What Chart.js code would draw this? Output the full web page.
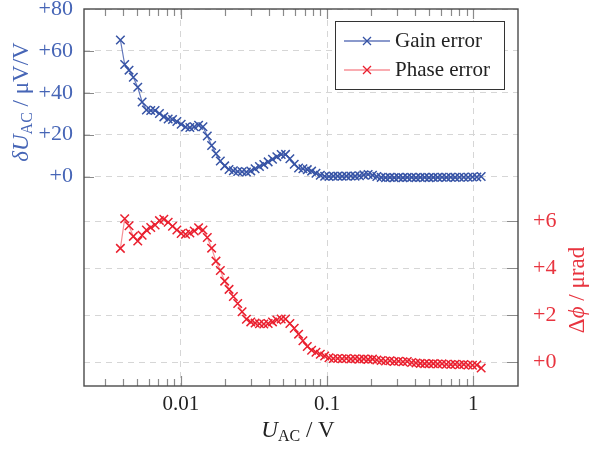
<!DOCTYPE html>
<html>
<head>
<meta charset="utf-8">
<script src="https://cdn.jsdelivr.net/npm/chart.js@4.4.1/dist/chart.umd.min.js"></script>
<style>
  html, body { margin: 0; padding: 0; background: #fff; }
</style>
</head>
<body>
<canvas id="chart" width="590" height="455"></canvas>
<script>
// measured AC voltage (V)
var voltages = [
  0.00385, 0.00412, 0.00441, 0.00472, 0.00506, 0.00542, 0.00580, 0.00621, 0.00665, 0.00712,
  0.00763, 0.00817, 0.00875, 0.00937, 0.01003, 0.01074, 0.01150, 0.01232, 0.01319, 0.01413,
  0.01513, 0.01620, 0.01735, 0.01858, 0.01990, 0.02131, 0.02282, 0.02443, 0.02617, 0.02802,
  0.03001, 0.03213, 0.03441, 0.03685, 0.03946, 0.04226, 0.04525, 0.04846, 0.05190, 0.05557,
  0.05951, 0.06373, 0.06825, 0.07309, 0.07827, 0.08381, 0.08975, 0.09611, 0.1029, 0.1102,
  0.1180, 0.1264, 0.1354, 0.1450, 0.1552, 0.1662, 0.1780, 0.1906, 0.2041, 0.2186,
  0.2341, 0.2507, 0.2685, 0.2875, 0.3079, 0.3297, 0.3531, 0.3781, 0.4049, 0.4336,
  0.4643, 0.4972, 0.5324, 0.5702, 0.6106, 0.6539, 0.7002, 0.7498, 0.8030, 0.8599,
  0.9209, 0.9861, 1.056, 1.131
];
// gain error (uV/V)
var gainError = [
  65.2, 53.5, 50.8, 47.4, 42.6, 35.6, 31.8, 31.5, 31.5, 30.1,
  28.5, 27.5, 27.2, 26.3, 25.0, 23.7, 23.4, 23.8, 24.5, 23.8,
  19.4, 14.8, 10.9, 7.4, 5.1, 3.4, 2.8, 2.4, 2.3, 2.2,
  2.7, 3.7, 4.8, 5.8, 7.0, 8.3, 9.5, 10.5, 10.6, 8.5,
  5.9, 4.1, 3.7, 3.3, 2.6, 1.6, 0.6, 0.1, 0.0, 0.2,
  0.2, 0.1, 0.2, 0.3, 0.2, 0.4, 0.8, 1.0, 0.6, 0.0,
  -0.4, -0.5, -0.4, -0.5, -0.4, -0.5, -0.4, -0.4, -0.5, -0.4,
  -0.4, -0.5, -0.4, -0.4, -0.3, -0.4, -0.3, -0.4, -0.3, -0.3,
  -0.3, -0.2, -0.2, 0.0
];
// phase error (urad)
var phaseError = [
  4.84, 6.1, 5.8, 5.35, 5.15, 5.4, 5.62, 5.73, 5.83, 6.02,
  6.08, 5.95, 5.78, 5.62, 5.47, 5.44, 5.49, 5.58, 5.72, 5.62,
  5.3, 4.85, 4.3, 3.9, 3.45, 3.1, 2.8, 2.5, 2.15, 1.83,
  1.72, 1.67, 1.64, 1.63, 1.65, 1.72, 1.8, 1.84, 1.84, 1.65,
  1.45, 1.2, 0.92, 0.68, 0.52, 0.43, 0.35, 0.27, 0.2, 0.17,
  0.17, 0.16, 0.17, 0.15, 0.16, 0.14, 0.15, 0.13, 0.14, 0.1,
  0.08, 0.06, 0.07, 0.04, 0.05, 0.03, 0.04, 0.0, -0.02, -0.04,
  -0.05, -0.06, -0.05, -0.07, -0.06, -0.08, -0.09, -0.08, -0.1, -0.09,
  -0.11, -0.12, -0.11, -0.24
];
var xTicks = [0.01, 0.1, 1];
var xMinorTicks = [0.003, 0.004, 0.005, 0.006, 0.007, 0.008, 0.009,
  0.02, 0.03, 0.04, 0.05, 0.06, 0.07, 0.08, 0.09,
  0.2, 0.3, 0.4, 0.5, 0.6, 0.7, 0.8, 0.9];
var gainTicks = [0, 20, 40, 60, 80];
var phaseTicks = [0, 2, 4, 6];

var BLUE = '#3653a5';
var BLUE_LINE = 'rgba(60,85,170,0.8)';
var BLUE_TEXT = '#4665b6';
var RED = '#ea1f2e';
var RED_LINE = 'rgba(240,70,80,0.6)';
var RED_TEXT = '#e8343f';
var SERIF = '"Liberation Serif", "DejaVu Serif", serif';

function toPoints(ys) {
  return voltages.map(function(v, i) { return { x: v, y: ys[i] }; });
}

// draw a run of text pieces (for sub-scripts), centred on cx,cy, rotated by angle
function drawRuns(ctx, runs, cx, cy, angle, color) {
  ctx.save();
  ctx.translate(cx, cy);
  ctx.rotate(angle);
  ctx.fillStyle = color;
  ctx.textBaseline = 'alphabetic';
  ctx.textAlign = 'left';
  var total = 0;
  runs.forEach(function(r) { ctx.font = r.f; r.w = ctx.measureText(r.t).width; total += r.w; });
  var x = -total / 2;
  runs.forEach(function(r) {
    ctx.font = r.f;
    ctx.fillText(r.t, x, 7 + (r.dy || 0));
    x += r.w;
  });
  ctx.restore();
}

var framePlugin = {
  id: 'frame',
  afterDraw: function(chart) {
    var ctx = chart.ctx;
    var a = chart.chartArea;
    var sx = chart.scales.x, sg = chart.scales.yG, sp = chart.scales.yP;
    ctx.save();
    // inner tick marks
    ctx.strokeStyle = '#8a8a8a';
    ctx.lineWidth = 1.2;
    ctx.beginPath();
    xMinorTicks.forEach(function(v) {
      var px = Math.round(sx.getPixelForValue(v)) + 0.5;
      ctx.moveTo(px, a.bottom); ctx.lineTo(px, a.bottom - 7);
      ctx.moveTo(px, a.top); ctx.lineTo(px, a.top + 7);
    });
    xTicks.forEach(function(v) {
      var px = Math.round(sx.getPixelForValue(v)) + 0.5;
      ctx.moveTo(px, a.bottom); ctx.lineTo(px, a.bottom - 10);
      ctx.moveTo(px, a.top); ctx.lineTo(px, a.top + 10);
    });
    gainTicks.slice(0, 4).forEach(function(v) {
      var py = Math.round(sg.getPixelForValue(v)) + 0.5;
      ctx.moveTo(a.left, py); ctx.lineTo(a.left + 10, py);
    });
    phaseTicks.forEach(function(v) {
      var py = Math.round(sp.getPixelForValue(v)) + 0.5;
      ctx.moveTo(a.right, py); ctx.lineTo(a.right - 11, py);
    });
    ctx.stroke();
    // frame
    ctx.strokeStyle = '#4a4a4a';
    ctx.lineWidth = 1.4;
    ctx.strokeRect(a.left, a.top, a.right - a.left, a.bottom - a.top);

    // legend
    var lx = 335, ly = 21, lw = 169, lh = 68;
    ctx.fillStyle = '#fff';
    ctx.fillRect(lx, ly, lw, lh);
    ctx.strokeStyle = '#333';
    ctx.lineWidth = 1;
    ctx.strokeRect(lx + 0.5, ly + 0.5, lw, lh);
    var entries = [
      { label: 'Gain error', line: BLUE_LINE, mark: BLUE, y: 41 },
      { label: 'Phase error', line: RED_LINE, mark: RED, y: 70 }
    ];
    entries.forEach(function(e) {
      ctx.strokeStyle = e.line;
      ctx.lineWidth = 1.3;
      ctx.beginPath();
      ctx.moveTo(344, e.y); ctx.lineTo(390, e.y);
      ctx.stroke();
      ctx.strokeStyle = e.mark;
      ctx.beginPath();
      ctx.moveTo(363, e.y - 4); ctx.lineTo(371, e.y + 4);
      ctx.moveTo(363, e.y + 4); ctx.lineTo(371, e.y - 4);
      ctx.stroke();
      ctx.fillStyle = '#222';
      ctx.font = '21px ' + SERIF;
      ctx.textBaseline = 'middle';
      ctx.textAlign = 'left';
      ctx.fillText(e.label, 395, e.y);
    });

    // axis titles
    var big = '23px ' + SERIF, bigIt = 'italic 23px ' + SERIF, sub = '16px ' + SERIF;
    drawRuns(ctx, [
      { t: 'δ', f: bigIt }, { t: 'U', f: bigIt }, { t: 'AC', f: sub, dy: 4 },
      { t: ' / μV/V', f: big }
    ], 21, 102, -Math.PI / 2, BLUE_TEXT);
    drawRuns(ctx, [
      { t: 'Δ', f: big }, { t: 'ϕ', f: bigIt }, { t: ' / μrad', f: big }
    ], 577, 290, -Math.PI / 2, RED_TEXT);
    drawRuns(ctx, [
      { t: 'U', f: bigIt }, { t: 'AC', f: sub, dy: 4 }, { t: ' / V', f: big }
    ], 298, 430, 0, '#222');
    ctx.restore();
  }
};

var gridCommon = {
  color: '#d6d6d6',
  lineWidth: 1,
  drawTicks: false
};

function noPad(s) {
  s.paddingTop = 0; s.paddingBottom = 0; s.paddingLeft = 0; s.paddingRight = 0;
}

new Chart(document.getElementById('chart'), {
  type: 'line',
  data: {
    datasets: [
      {
        label: 'Gain error',
        data: toPoints(gainError),
        yAxisID: 'yG',
        borderColor: BLUE_LINE,
        borderWidth: 1.2,
        pointStyle: 'crossRot',
        pointRadius: 6,
        pointBorderColor: BLUE,
        pointBorderWidth: 1.5,
        tension: 0
      },
      {
        label: 'Phase error',
        data: toPoints(phaseError),
        yAxisID: 'yP',
        borderColor: RED_LINE,
        borderWidth: 1.2,
        pointStyle: 'crossRot',
        pointRadius: 6,
        pointBorderColor: RED,
        pointBorderWidth: 1.5,
        tension: 0
      }
    ]
  },
  options: {
    responsive: false,
    animation: false,
    devicePixelRatio: 1,
    layout: { padding: { top: 9, left: 0, right: 0, bottom: 0 } },
    plugins: { legend: { display: false }, tooltip: { enabled: false } },
    scales: {
      x: {
        type: 'logarithmic',
        position: 'bottom',
        min: 0.00217,
        max: 2.02,
        afterBuildTicks: function(s) { s.ticks = xTicks.map(function(v) { return { value: v }; }); },
        afterFit: function(s) { s.height = 69; noPad(s); },
        ticks: {
          color: '#222',
          font: { family: SERIF, size: 21 },
          padding: 6,
          maxRotation: 0,
          autoSkip: false,
          callback: function(v) { return String(v); }
        },
        grid: gridCommon,
        border: { display: false, dash: [6, 5] }
      },
      yG: {
        type: 'linear',
        position: 'left',
        min: -100,
        max: 80,
        afterBuildTicks: function(s) { s.ticks = gainTicks.map(function(v) { return { value: v }; }); },
        afterFit: function(s) { s.width = 84; noPad(s); },
        ticks: {
          color: BLUE_TEXT,
          font: { family: SERIF, size: 22 },
          padding: 11,
          callback: function(v) { return '+' + v; }
        },
        grid: gridCommon,
        border: { display: false, dash: [6, 5] }
      },
      yP: {
        type: 'linear',
        position: 'right',
        min: -1,
        max: 15,
        afterBuildTicks: function(s) { s.ticks = phaseTicks.map(function(v) { return { value: v }; }); },
        afterFit: function(s) { s.width = 72; noPad(s); },
        ticks: {
          color: RED_TEXT,
          font: { family: SERIF, size: 22 },
          padding: 15,
          callback: function(v) { return '+' + v; }
        },
        grid: gridCommon,
        border: { display: false, dash: [6, 5] }
      }
    }
  },
  plugins: [framePlugin]
});
</script>
</body>
</html>
